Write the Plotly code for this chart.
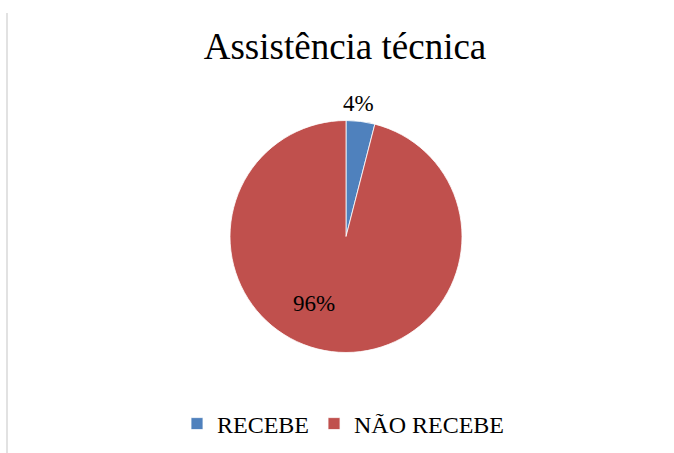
import plotly.graph_objects as go

categories = ["RECEBE", "NÃO RECEBE"]
values = [4, 96]
colors = ["#4F81BD", "#C0504D"]
title_text = "Assistência técnica"

W, H = 674, 453
font_family = "Liberation Serif"

total = sum(values)
pct_labels = [f"{round(v / total * 100)}%" for v in values]

fig = go.Figure(go.Pie(
    labels=categories,
    values=values,
    sort=False,
    direction="clockwise",
    rotation=0,
    marker=dict(colors=colors, line=dict(color="#FFFFFF", width=0.8)),
    textinfo="none",
    domain=dict(x=[230 / W, 462 / W], y=[(H - 353) / H, (H - 120) / H]),
    hoverinfo="label+percent",
))

# percentage labels placed like the original chart's data labels
label_pos = [(358, 104), (314, 303)]
annotations = [
    dict(text=t, x=px / W, y=(H - py) / H, xref="paper", yref="paper",
         xanchor="center", yanchor="middle", showarrow=False,
         font=dict(family=font_family, size=23, color="#000000"))
    for t, (px, py) in zip(pct_labels, label_pos)
]

fig.update_layout(
    width=W, height=H,
    margin=dict(l=0, r=0, t=0, b=0),
    paper_bgcolor="#FFFFFF",
    plot_bgcolor="#FFFFFF",
    font=dict(family=font_family),
    title=dict(text=title_text, x=345 / W, xanchor="center", y=(H - 46) / H, yanchor="middle",
               font=dict(family=font_family, size=37, color="#000000")),
    legend=dict(orientation="h", x=177 / W, xanchor="left", y=(H - 424) / H, yanchor="middle",
                font=dict(family=font_family, size=24, color="#000000"),
                traceorder="normal"),
    annotations=annotations,
    shapes=[dict(type="line", xref="paper", yref="paper", x0=7 / W, x1=7 / W,
                 y0=0, y1=(H - 13) / H, line=dict(color="#D9D9D9", width=1.5))],
)

fig.write_html("out.html", config={"displayModeBar": False},
               post_script="document.body.style.margin='0';document.body.style.overflow='hidden';")
